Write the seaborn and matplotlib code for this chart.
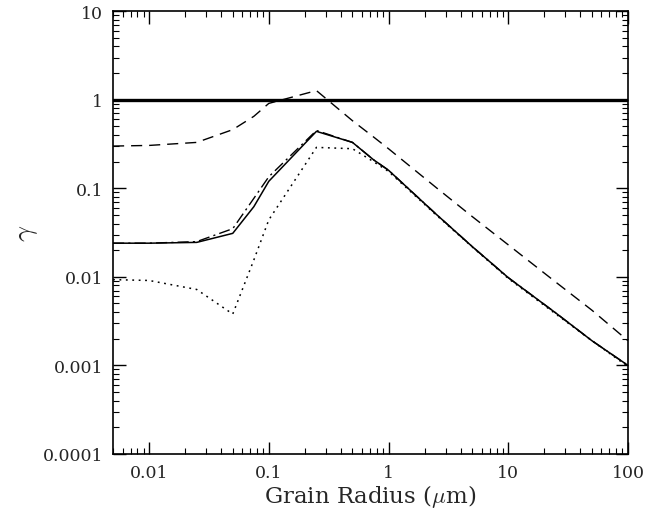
import numpy as np
import pandas as pd
import matplotlib
matplotlib.use('Agg')
import matplotlib.pyplot as plt
from matplotlib.ticker import LogLocator, FuncFormatter, NullFormatter
import seaborn as sns

# grain radius grid (micron)
radius = [0.005, 0.01, 0.025, 0.05, 0.075, 0.1, 0.25, 0.5, 0.75, 1, 2.5, 5, 10, 25, 50, 100]

# gamma values
gamma_unity = [1.0, 1.0]
radius_unity = [0.005, 100]
gamma_dashed = [0.30, 0.305, 0.33, 0.46, 0.65, 0.91, 1.27, 0.58, 0.38, 0.28,
                0.102, 0.048, 0.023, 0.0087, 0.0042, 0.0019]
gamma_solid = [0.024, 0.024, 0.0245, 0.031, 0.062, 0.12, 0.44, 0.33, 0.21, 0.16,
               0.051, 0.022, 0.0098, 0.0039, 0.0019, 0.001]
gamma_dashdot = [0.024, 0.024, 0.025, 0.035, 0.077, 0.135, 0.45, 0.33, 0.21, 0.16,
                 0.051, 0.022, 0.0098, 0.0039, 0.0019, 0.001]
gamma_dotted = [0.0093, 0.0091, 0.0072, 0.0038, 0.0155, 0.044, 0.29, 0.28, 0.20, 0.155,
                0.05, 0.0218, 0.0096, 0.0038, 0.0019, 0.00097]

sns.set_style('ticks')
plt.rcParams['font.family'] = ['DejaVu Serif']
plt.rcParams['mathtext.fontset'] = 'cm'

fig = plt.figure(figsize=(6.61, 5.10), dpi=100)
ax = fig.add_axes([0.171, 0.108, 0.779, 0.868])

sns.lineplot(x=radius_unity, y=gamma_unity, ax=ax, color='black', linewidth=2.4)
sns.lineplot(x=radius, y=gamma_dashed, ax=ax, color='black', linewidth=1.0,
             linestyle=(0, (8, 5)))
sns.lineplot(x=radius, y=gamma_dashdot, ax=ax, color='black', linewidth=1.0,
             linestyle=(0, (8, 3, 1.5, 3)))
sns.lineplot(x=radius, y=gamma_solid, ax=ax, color='black', linewidth=1.1)
sns.lineplot(x=radius, y=gamma_dotted, ax=ax, color='black', linewidth=1.1,
             linestyle=(0, (1.2, 3)))

ax.set_xscale('log')
ax.set_yscale('log')
ax.set_xlim(0.005, 100)
ax.set_ylim(0.0001, 10)

fmt = FuncFormatter(lambda v, p: '{:g}'.format(v))
for axis in (ax.xaxis, ax.yaxis):
    axis.set_major_locator(LogLocator(base=10))
    axis.set_minor_locator(LogLocator(base=10, subs=np.arange(2, 10)))
    axis.set_major_formatter(fmt)
    axis.set_minor_formatter(NullFormatter())

ax.tick_params(which='both', direction='in', top=True, right=True, color='black')
ax.tick_params(which='major', length=9, width=1.0, labelsize=12.5, pad=7)
ax.tick_params(which='minor', length=4.5, width=0.8)
for s in ax.spines.values():
    s.set_linewidth(1.2)
    s.set_color('black')

ax.set_xlabel('Grain Radius ($\\mu$m)', fontsize=16.5, labelpad=1)
ax.set_ylabel('$\\gamma$', fontsize=20, labelpad=2)

fig.savefig('out.png', dpi=100)
